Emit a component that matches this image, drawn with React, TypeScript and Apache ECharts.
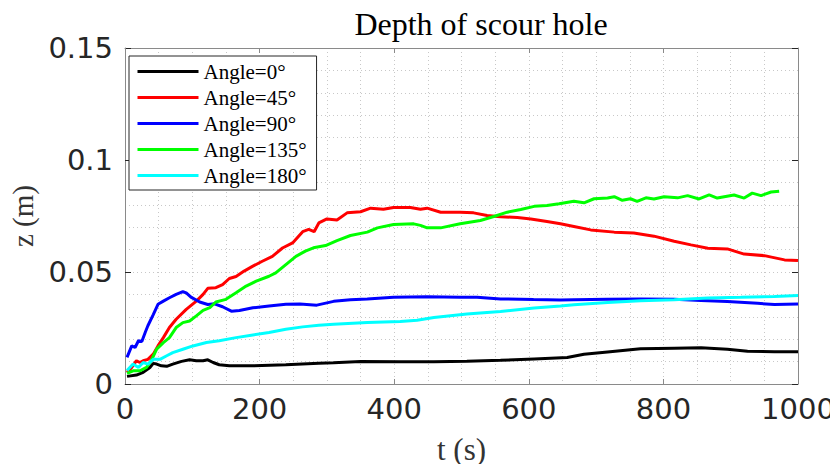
import React, { useEffect, useRef } from "react";
import * as echarts from "echarts";

const seriesNames = ["Angle=0°", "Angle=45°", "Angle=90°", "Angle=135°", "Angle=180°"];
const seriesColors = ["#000000", "#ff0000", "#0000ff", "#00ff00", "#00ffff"];

const xTicks = [0, 200, 400, 600, 800, 1000];
const yTicks = [0, 0.05, 0.1, 0.15];

const t0 = [3, 17, 27, 37, 42, 47, 54, 62, 71, 84, 96, 106, 116, 123, 131, 140, 155, 190, 239, 288, 310, 350, 409, 459, 508, 558, 608, 657, 682, 717, 766, 816, 856, 895, 925, 965, 1000];
const z0 = [0.0034, 0.004, 0.0052, 0.0074, 0.0092, 0.0089, 0.0081, 0.0079, 0.0089, 0.0101, 0.0108, 0.0104, 0.0104, 0.0108, 0.0096, 0.0086, 0.0081, 0.0081, 0.0086, 0.0093, 0.0095, 0.01, 0.0099, 0.0099, 0.0102, 0.0106, 0.0112, 0.0118, 0.0133, 0.0143, 0.0157, 0.016, 0.0162, 0.0155, 0.0146, 0.0144, 0.0144];

const t45 = [3, 10, 17, 22, 27, 34, 42, 49, 57, 66, 76, 91, 106, 116, 123, 135, 145, 155, 165, 177, 190, 204, 219, 234, 249, 264, 273, 281, 288, 300, 315, 330, 350, 365, 384, 399, 424, 439, 449, 469, 498, 518, 538, 558, 583, 603, 627, 647, 667, 692, 727, 756, 786, 816, 841, 866, 895, 920, 950, 980, 1000];
const z45 = [0.0052, 0.0074, 0.0104, 0.0096, 0.0104, 0.011, 0.0133, 0.017, 0.0207, 0.0252, 0.0289, 0.0333, 0.037, 0.04, 0.0427, 0.043, 0.0444, 0.0471, 0.048, 0.0504, 0.0526, 0.0548, 0.057, 0.0607, 0.063, 0.068, 0.069, 0.068, 0.0719, 0.0737, 0.0732, 0.0764, 0.0769, 0.0785, 0.078, 0.0788, 0.0788, 0.078, 0.0785, 0.0767, 0.0767, 0.0764, 0.0752, 0.0747, 0.0743, 0.0737, 0.0725, 0.0715, 0.0703, 0.0688, 0.0678, 0.0674, 0.066, 0.0637, 0.0621, 0.0606, 0.0603, 0.058, 0.0573, 0.0554, 0.0551];

const t90 = [3, 10, 15, 20, 25, 30, 34, 42, 49, 57, 66, 76, 86, 91, 98, 111, 123, 133, 145, 158, 170, 190, 214, 239, 260, 285, 310, 335, 360, 399, 449, 498, 523, 558, 607, 647, 667, 717, 766, 816, 856, 895, 940, 965, 1000];
const z90 = [0.0119, 0.017, 0.0163, 0.0193, 0.019, 0.023, 0.026, 0.031, 0.0356, 0.037, 0.0385, 0.04, 0.0412, 0.0407, 0.0388, 0.0366, 0.0355, 0.0358, 0.0345, 0.0325, 0.0328, 0.034, 0.0348, 0.0356, 0.0357, 0.0352, 0.0369, 0.0376, 0.0379, 0.0387, 0.039, 0.0387, 0.0387, 0.038, 0.0377, 0.0375, 0.0376, 0.0378, 0.0379, 0.0378, 0.0373, 0.0368, 0.036, 0.0355, 0.0357];

const t135 = [3, 12, 22, 32, 39, 47, 57, 66, 76, 86, 96, 106, 116, 126, 135, 150, 165, 180, 195, 214, 224, 239, 254, 268, 280, 298, 315, 335, 360, 375, 399, 429, 439, 449, 469, 498, 528, 548, 568, 588, 608, 627, 645, 667, 682, 697, 717, 727, 739, 751, 761, 774, 786, 801, 821, 836, 853, 868, 880, 905, 920, 932, 945, 960, 972];
const z135 = [0.0047, 0.0059, 0.0059, 0.0074, 0.0104, 0.0156, 0.0185, 0.0207, 0.0252, 0.0274, 0.0281, 0.0304, 0.0329, 0.0341, 0.0366, 0.0378, 0.0407, 0.0437, 0.0459, 0.0481, 0.0496, 0.0533, 0.057, 0.0593, 0.0608, 0.0618, 0.064, 0.0663, 0.0678, 0.0697, 0.0712, 0.0715, 0.0708, 0.0697, 0.0697, 0.0715, 0.073, 0.0748, 0.0767, 0.0779, 0.0793, 0.0797, 0.0805, 0.0816, 0.0809, 0.0827, 0.083, 0.0836, 0.082, 0.0827, 0.0815, 0.0831, 0.0826, 0.0836, 0.0831, 0.0841, 0.0826, 0.0844, 0.083, 0.0844, 0.083, 0.0852, 0.0841, 0.0857, 0.0861];

const t180 = [3, 12, 20, 27, 34, 42, 52, 62, 71, 86, 101, 121, 140, 165, 190, 214, 239, 264, 288, 310, 360, 409, 434, 459, 508, 558, 608, 647, 667, 717, 766, 816, 866, 915, 965, 1000];
const z180 = [0.006, 0.0089, 0.0074, 0.0096, 0.0089, 0.011, 0.011, 0.0126, 0.014, 0.0155, 0.017, 0.0185, 0.0193, 0.0207, 0.0219, 0.023, 0.0244, 0.0255, 0.0262, 0.0267, 0.0275, 0.0279, 0.0285, 0.0297, 0.0312, 0.0324, 0.0339, 0.0348, 0.0354, 0.0364, 0.0372, 0.0376, 0.0384, 0.0387, 0.0391, 0.0395];

const allT = [t0, t45, t90, t135, t180];
const allZ = [z0, z45, z90, z135, z180];

const serif = "'Liberation Serif', 'DejaVu Serif', serif";
const sans = "'DejaVu Sans', sans-serif";

export default function App() {
  const ref = useRef<HTMLDivElement>(null);
  useEffect(() => {
    if (!ref.current) return;
    const chart = echarts.init(ref.current, undefined, { renderer: "svg" });
    const gridLine = { show: true, lineStyle: { color: "#c8c8c8", width: 1, type: [1, 3] as any } };
    const axisLine = { show: true, onZero: false, lineStyle: { color: "#8a8a8a", width: 1 } };
    const series = seriesNames.map((name, i) => ({
      name,
      type: "line",
      xAxisIndex: 0,
      yAxisIndex: 0,
      symbol: "none",
      smooth: false,
      data: allT[i].map((t, k) => [t, allZ[i][k]]),
      lineStyle: { color: seriesColors[i], width: 3 },
      itemStyle: { color: seriesColors[i] },
    }));
    chart.setOption({
      animation: false,
      backgroundColor: "#ffffff",
      title: {
        text: "Depth of scour hole",
        left: 476,
        textAlign: "center",
        top: 3,
        textStyle: { fontFamily: serif, fontSize: 32, fontWeight: "normal", color: "#000" },
      },
      grid: { left: 125, right: 40, top: 48, bottom: 88, containLabel: false },
      legend: {
        orient: "vertical",
        left: 129,
        top: 56,
        itemWidth: 61,
        itemHeight: 20,
        itemGap: 5,
        padding: [5, 10, 4, 7],
        borderColor: "#262626",
        borderWidth: 1,
        backgroundColor: "#ffffff",
        data: seriesNames,
        itemStyle: { opacity: 0 },
        lineStyle: { width: 3 },
        textStyle: { fontFamily: serif, fontSize: 21, color: "#000", padding: [0, 0, 0, 0] },
      },
      xAxis: [
        {
          type: "value",
          min: 0,
          max: 1000,
          interval: 200,
          name: "t (s)",
          nameLocation: "middle",
          nameGap: 50,
          nameTextStyle: { fontFamily: serif, fontSize: 31, color: "#333" },
          axisLine,
          axisTick: { show: true, inside: true, length: 5, lineStyle: { color: "#8a8a8a" } },
          axisLabel: { fontFamily: sans, fontSize: 29, color: "#262626", margin: 10, formatter: (v: number) => String(v) },
          splitLine: gridLine,
          minorTick: { show: false, splitNumber: 4 },
          minorSplitLine: gridLine,
        },
        {
          type: "value",
          position: "top",
          min: 0,
          max: 1000,
          interval: 200,
          axisLine,
          axisTick: { show: true, inside: true, length: 5, lineStyle: { color: "#8a8a8a" } },
          axisLabel: { show: false },
          splitLine: { show: false },
        },
      ],
      yAxis: [
        {
          type: "value",
          min: 0,
          max: 0.15,
          interval: 0.05,
          name: "z (m)",
          nameLocation: "middle",
          nameGap: 86,
          nameTextStyle: { fontFamily: serif, fontSize: 29, color: "#333" },
          axisLine,
          axisTick: { show: true, inside: true, length: 6, lineStyle: { color: "#262626" } },
          axisLabel: {
            fontFamily: sans,
            fontSize: 29,
            color: "#262626",
            margin: 12,
            formatter: (v: number) => String(parseFloat(v.toFixed(3))),
          },
          splitLine: gridLine,
          minorTick: { show: false, splitNumber: 5 },
          minorSplitLine: gridLine,
        },
        {
          type: "value",
          position: "right",
          min: 0,
          max: 0.15,
          interval: 0.05,
          axisLine,
          axisTick: { show: true, inside: true, length: 6, lineStyle: { color: "#262626" } },
          axisLabel: { show: false },
          splitLine: { show: false },
        },
      ],
      series,
    });
    return () => chart.dispose();
  }, []);
  return <div ref={ref} style={{ width: 838, height: 472, margin: -8 }} />;
}
